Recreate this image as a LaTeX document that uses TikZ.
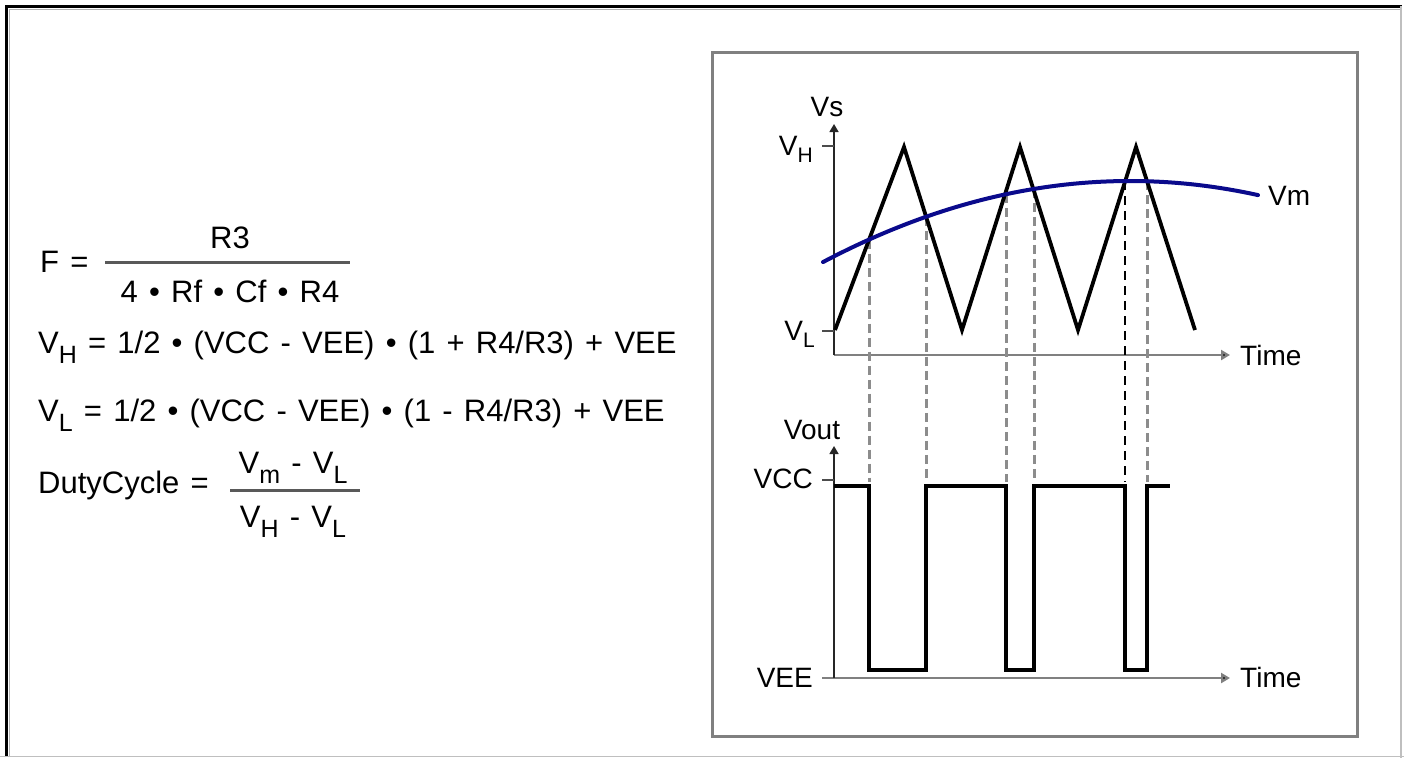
\documentclass[tikz,border=0pt]{standalone}
\usepackage{fontspec}
\setmainfont{Liberation Sans}
\newfontfamily\formfont{Liberation Sans}[WordSpace=1.3]
\usetikzlibrary{arrows.meta}
\newcommand{\sbf}[1]{\raisebox{-10pt}{\fontsize{25}{25}\selectfont #1}}
\newcommand{\sbl}[1]{\raisebox{-0.25em}{\fontsize{21}{21}\selectfont #1}}
\definecolor{vmblue}{RGB}{10,10,140}
\begin{document}
\begin{tikzpicture}[x=1pt,y=-1pt,
  ftxt/.style={font=\formfont\fontsize{31}{36}\selectfont, inner sep=0pt},
  ltxt/.style={font=\fontsize{28}{32}\selectfont, inner sep=0pt},
  fracline/.style={line width=3pt, draw=black!65},
  vaxis/.style={line width=1.5pt, draw=black!85, -{Triangle[length=8pt,width=9pt]}},
  haxis/.style={line width=2.5pt, draw=black!50, -{Triangle[length=9pt,width=10pt,fill=black]}},
  tick/.style={line width=1.5pt, draw=black!70},
  wave/.style={line width=3.8pt, draw=black, line join=miter},
  dashg/.style={line width=3pt, draw=black!45, dash pattern=on 9pt off 5pt},
  dashk/.style={line width=1.5pt, draw=black, dash pattern=on 9pt off 6pt}
]
\useasboundingbox (0,0) rectangle (1404,758);
\fill[white] (0,0) rectangle (1404,758);
% outer frame
\draw[line width=3pt, black] (6.5,757) -- (6.5,6.5) -- (1402,6.5);
\draw[line width=1pt, black!30] (9,757) -- (9,9) -- (1402,9);
\draw[line width=1.5pt, black!25] (0,756.5) -- (1404,756.5);
\draw[line width=1.5pt, black!25] (1401,6) -- (1401,758);
% inner frame
\draw[line width=3pt, black!50] (712,52) rectangle (1357,736);

% formulas
\node[ftxt, anchor=base west] (F) at (40,272) {F =};
\node[ftxt, anchor=base] (fnum) at (230,248) {R3};
\draw[fracline] (105,262) -- (350,262);
\node[ftxt, anchor=base] (fden) at (230,302) {4 • Rf • Cf • R4};
\node[ftxt, anchor=base west] (vh) at (38,353) {V\sbf{H} = 1/2 • (VCC - VEE) • (1 + R4/R3) + VEE};
\node[ftxt, anchor=base west] (vl) at (38,421) {V\sbf{L} = 1/2 • (VCC - VEE) • (1 - R4/R3) + VEE};
\node[ftxt, anchor=base west] (dc) at (38,493) {DutyCycle =};
\node[ftxt, anchor=base] (dnum) at (293,473) {V\sbf{m} - V\sbf{L}};
\draw[fracline] (230,490) -- (360,490);
\node[ftxt, anchor=base] (dden) at (293,527) {V\sbf{H} - V\sbf{L}};

% upper chart
\coordinate (o1) at (834,355);
\draw[haxis] (o1) -- (1230,355);
\draw[vaxis] (o1) -- (834,124);
\draw[tick] (822,146) -- (834,146);
\draw[tick] (822,331) -- (834,331);
\node[ltxt, anchor=base] (vs) at (827,116) {Vs};
\node[ltxt, anchor=base east] (vhl) at (813,155) {V\sbl{H}};
\node[ltxt, anchor=base east] (vll) at (815,340) {V\sbl{L}};
\node[ltxt, anchor=base west] (t1) at (1240,365) {Time};
\node[ltxt, anchor=base west] (vml) at (1268,205) {Vm};

% dashed projection lines
\foreach \x in {869,926,1006,1034,1147}{
  \draw[dashg] (\x,{181+8.6*((\x-1130)/100)^2}) -- (\x,482);
}
\draw[dashk] (1125,{181+8.6*((1125-1130)/100)^2}) -- (1125,482);

% triangle wave
\draw[wave] (835,330) -- (904,147) -- (962,330) -- (1020,147) -- (1078,330) -- (1136,147) -- (1195,330);
% Vm curve
\draw[line width=4pt, vmblue, line cap=round] plot[domain=823:1258, samples=60] (\x,{181+8.6*((\x-1130)/100)^2});

% lower chart
\coordinate (o2) at (834,678);
\draw[haxis] (822,678) -- (1230,678);
\draw[vaxis] (o2) -- (834,446);
\draw[tick] (822,480) -- (834,480);
\node[ltxt, anchor=base] (voutl) at (812,439) {Vout};
\node[ltxt, anchor=base east] (vccl) at (813,488) {VCC};
\node[ltxt, anchor=base east] (veel) at (813,687) {VEE};
\node[ltxt, anchor=base west] (t2) at (1240,687) {Time};
\draw[wave] (834,486) -- (869,486) -- (869,670) -- (926,670) -- (926,486) -- (1006,486) -- (1006,670) -- (1034,670) -- (1034,486) -- (1125,486) -- (1125,670) -- (1147,670) -- (1147,486) -- (1170,486);
\end{tikzpicture}
\end{document}
